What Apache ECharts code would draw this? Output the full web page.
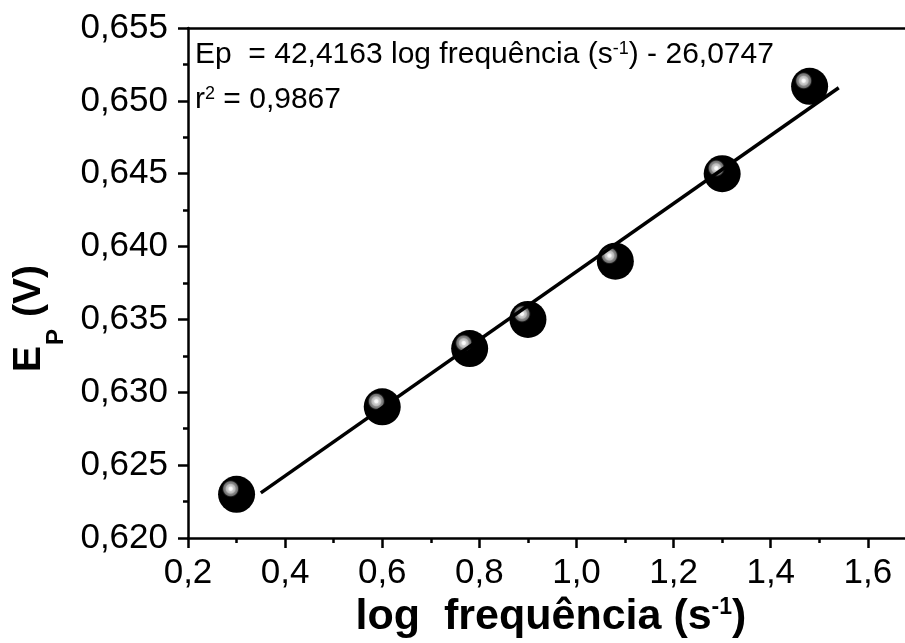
<!DOCTYPE html>
<html>
<head>
<meta charset="utf-8">
<script src="https://cdn.jsdelivr.net/npm/echarts@6/dist/echarts.min.js"></script>
<style>html,body{margin:0;padding:0;background:#fff}#c{width:905px;height:643px}</style>
</head>
<body>
<div id="c"></div>
<script>
// data
const logFreq = [0.30, 0.60, 0.78, 0.90, 1.08, 1.30, 1.48];
const ep = [0.623, 0.629, 0.633, 0.635, 0.639, 0.645, 0.651];
const fitX = [0.35, 1.54];
const fitY = [0.6231, 0.6509];
const xTicks = [0.2, 0.4, 0.6, 0.8, 1.0, 1.2, 1.4, 1.6];
const xMinorTicks = [0.3, 0.5, 0.7, 0.9, 1.1, 1.3, 1.5];
const yTicks = [0.620, 0.625, 0.630, 0.635, 0.640, 0.645, 0.650, 0.655];
const eqLine1 = 'Ep  = 42,4163 log frequência (s{sup|-1}) - 26,0747';
const eqLine2 = 'r{sup|2} = 0,9867';

const FONT = '"Liberation Sans", Arial, sans-serif';
const chart = echarts.init(document.getElementById('c'), null, {renderer: 'canvas'});

const scatterData = logFreq.map((x, i) => [x, ep[i]]);
const fitData = fitX.map((x, i) => [x, fitY[i]]);
const X_MAX = 1.8;

chart.setOption({
  animation: false,
  backgroundColor: '#fff',
  grid: {left: 188, top: 28, width: 777, bottom: 105, containLabel: false, outerBoundsMode: 'none'},
  xAxis: [
    {
      type: 'value', min: xTicks[0], max: X_MAX, interval: 0.2, position: 'bottom',
      axisLine: {show: true, onZero: false, lineStyle: {color: '#000', width: 2.5}},
      axisTick: {show: true, inside: false, length: 10, customValues: xTicks, lineStyle: {color: '#000', width: 2.5}},
      minorTick: {show: false},
      splitLine: {show: false},
      axisLabel: {
        show: true, margin: 18, color: '#000', fontSize: 35, fontFamily: FONT,
        customValues: xTicks,
        formatter: v => v.toFixed(1).replace('.', ',')
      },
      name: 'log  frequência (s{sup|-1})',
      nameLocation: 'middle', nameGap: 56,
      nameTextStyle: {
        color: '#000', fontSize: 43, fontWeight: 'bold', fontFamily: FONT,
        padding: [0, 51, 0, 0],
        rich: {sup: {fontSize: 23, fontWeight: 'bold', fontFamily: FONT, verticalAlign: 'top', padding: [0, 0, 12, 0]}}
      }
    },
    {
      type: 'value', min: xTicks[0], max: X_MAX, position: 'top',
      axisLine: {show: true, onZero: false, lineStyle: {color: '#000', width: 2.5}},
      axisTick: {show: false}, minorTick: {show: false}, axisLabel: {show: false}, splitLine: {show: false}
    },
    {
      type: 'value', min: xTicks[0], max: X_MAX, position: 'bottom',
      axisLine: {show: false, onZero: false},
      axisTick: {show: true, inside: false, length: 5, customValues: xMinorTicks, lineStyle: {color: '#000', width: 2.5}},
      minorTick: {show: false}, axisLabel: {show: false}, splitLine: {show: false}
    }
  ],
  yAxis: {
    type: 'value', min: yTicks[0], max: yTicks[yTicks.length - 1], interval: 0.005,
    axisLine: {show: true, onZero: false, lineStyle: {color: '#000', width: 2.5}},
    axisTick: {show: true, inside: false, length: 10, lineStyle: {color: '#000', width: 2.5}},
    minorTick: {show: true, splitNumber: 2, length: 5, lineStyle: {color: '#000', width: 2.5}},
    splitLine: {show: false},
    axisLabel: {
      show: true, margin: 20, color: '#000', fontSize: 35, fontFamily: FONT,
      formatter: v => v.toFixed(3).replace('.', ',')
    }
  },
  graphic: [
    {
      type: 'group', x: 0, y: 372, rotation: Math.PI / 2,
      children: [
        {type: 'text', x: 0, y: 29, style: {text: 'E', fill: '#000', fontSize: 39, fontWeight: 'bold', fontFamily: FONT, align: 'left', verticalAlign: 'middle'}},
        {type: 'text', x: 27, y: 56, style: {text: 'P', fill: '#000', fontSize: 24, fontWeight: 'bold', fontFamily: FONT, align: 'left', verticalAlign: 'middle'}},
        {type: 'text', x: 55, y: 29, style: {text: '(V)', fill: '#000', fontSize: 39, fontWeight: 'bold', fontFamily: FONT, align: 'left', verticalAlign: 'middle'}}
      ]
    },
    {
      type: 'text', x: 195, y: 55,
      style: {
        text: eqLine1, fill: '#000', fontSize: 30, fontFamily: FONT,
        align: 'left', verticalAlign: 'middle',
        rich: {sup: {fontSize: 18, fontFamily: FONT, verticalAlign: 'top', padding: [0, 0, 7, 0]}}
      }
    },
    {
      type: 'text', x: 195, y: 100,
      style: {
        text: eqLine2, fill: '#000', fontSize: 30, fontFamily: FONT,
        align: 'left', verticalAlign: 'middle',
        rich: {sup: {fontSize: 18, fontFamily: FONT, verticalAlign: 'top', padding: [0, 0, 7, 0]}}
      }
    }
  ],
  series: [
    {
      type: 'scatter', data: scatterData, symbol: 'circle', symbolSize: 37, z: 2,
      itemStyle: {
        opacity: 1,
        color: {
          type: 'radial', x: 0.34, y: 0.35, r: 0.5,
          colorStops: [
            {offset: 0, color: '#ffffff'},
            {offset: 0.09, color: '#f4f4f4'},
            {offset: 0.14, color: '#d0d0d0'},
            {offset: 0.24, color: '#b8b8b8'},
            {offset: 0.29, color: '#8a8a8a'},
            {offset: 0.38, color: '#707070'},
            {offset: 0.43, color: '#1a1a1a'},
            {offset: 0.48, color: '#000000'},
            {offset: 1, color: '#000000'}
          ]
        },
        borderWidth: 0
      },
      emphasis: {disabled: true}
    },
    {
      type: 'line', data: fitData, showSymbol: false, symbol: 'none', z: 3,
      lineStyle: {color: '#000', width: 3.5}
    }
  ]
});
</script>
</body>
</html>
